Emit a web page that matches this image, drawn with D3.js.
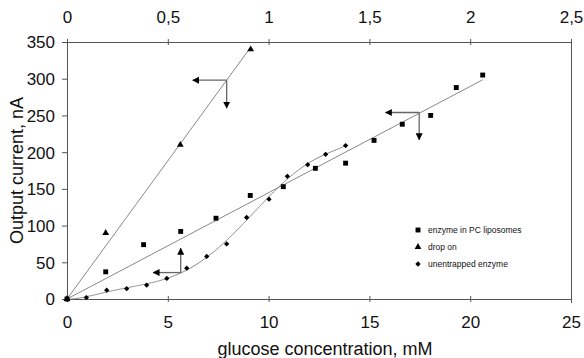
<!DOCTYPE html>
<html><head><meta charset="utf-8">
<script src="https://cdn.jsdelivr.net/npm/d3@7"></script>
<style>
body{margin:0;background:#fff}
svg{display:block}
text{font-family:"Liberation Sans",Arial,Helvetica,sans-serif;fill:#111}
</style>
</head><body>
<svg id="chart" width="584" height="358"></svg>
<script>
// ---- data ----
const xTicks  = [0, 5, 10, 15, 20, 25];
const x2Ticks = [0, 0.5, 1, 1.5, 2, 2.5];
const yTicks  = [0, 50, 100, 150, 200, 250, 300, 350];

const seriesNames = ["enzyme in PC liposomes", "drop on", "unentrapped enzyme"];

// enzyme in PC liposomes (bottom axis, mM)
const liposomeX = [0, 1.92, 3.80, 5.64, 7.39, 9.09, 10.73, 12.32, 13.82, 15.23, 16.63, 18.04, 19.31, 20.62];
const liposomeY = [0, 37, 74, 92, 110, 141, 153, 178, 185, 216, 238, 250, 288, 305];

// drop on (top axis)
const dropX = [0, 0.192, 0.562, 0.911];
const dropY = [0, 90, 210, 340];

// unentrapped enzyme (bottom axis, mM)
const freeX = [0, 0.96, 1.97, 2.96, 3.95, 4.95, 5.94, 6.93, 7.92, 8.91, 10.02, 10.93, 11.94, 12.83, 13.82];
const freeY = [0, 2, 12, 14, 19, 28, 42, 58, 75, 111, 136, 167, 183, 197, 209];

// axis-pointing arrows: corner (x, y), horizontal arrow end x, vertical arrow end y
const arrowSeries = ["drop on", "enzyme in PC liposomes", "unentrapped enzyme"];
const arrowX      = [0.792, 17.47, 5.64];
const arrowY      = [298, 254, 36];
const arrowXEnd   = [0.624, 15.80, 4.28];
const arrowYEnd   = [260, 217, 69];

// ---- chart ----
const svg = d3.select("#chart");
const L = 67, R = 571, T = 42, B = 299;
const x  = d3.scaleLinear().domain([0, 25]).range([L, R]);
const x2 = d3.scaleLinear().domain([0, 2.5]).range([L, R]);
const y  = d3.scaleLinear().domain([0, 350]).range([B, T]);

const axisColor = "#555";
const fs = 17;

const gb = svg.append("g").attr("transform", `translate(0,${B})`)
  .call(d3.axisBottom(x).tickValues(xTicks).tickSizeOuter(0).tickFormat(d3.format("d")));
const gt = svg.append("g").attr("transform", `translate(0,${T})`)
  .call(d3.axisTop(x2).tickValues(x2Ticks).tickSizeOuter(0).tickFormat(d => String(d).replace(".", ",")));
const gl = svg.append("g").attr("transform", `translate(${L},0)`)
  .call(d3.axisLeft(y).tickValues(yTicks).tickSizeOuter(0).tickFormat(d3.format("d")));

[gb, gt, gl].forEach(g => {
  g.select(".domain").remove();
  g.selectAll("text").attr("font-size", fs).attr("fill", "#111")
    .attr("font-family", '"Liberation Sans",Arial,sans-serif');
  g.selectAll("line").attr("stroke", axisColor);
});
gb.selectAll(".tick line").attr("y1", -3).attr("y2", 3);
gb.selectAll(".tick text").attr("y", 29).attr("dy", null);
gt.selectAll(".tick line").attr("y1", -3).attr("y2", 3);
gt.selectAll(".tick text").attr("y", -19).attr("dy", null);
gl.selectAll(".tick line").attr("x1", -5).attr("x2", 0);
gl.selectAll(".tick text").attr("x", -12).attr("dy", "0.35em");

// frame lines
const frame = svg.append("g").attr("stroke", axisColor).attr("stroke-width", 1).attr("fill", "none");
frame.append("line").attr("x1", L).attr("x2", R).attr("y1", B + 0.5).attr("y2", B + 0.5);
frame.append("line").attr("x1", L).attr("x2", R).attr("y1", T + 0.5).attr("y2", T + 0.5);
frame.append("line").attr("x1", L + 0.5).attr("x2", L + 0.5).attr("y1", T).attr("y2", B);
frame.append("line").attr("x1", R + 0.5).attr("x2", R + 0.5).attr("y1", T).attr("y2", B + 4);

// axis titles
svg.append("text").attr("x", 325).attr("y", 355).attr("text-anchor", "middle")
  .attr("font-size", 18).text("glucose concentration, mM");
svg.append("text").attr("transform", `translate(23,${(T + B) / 2}) rotate(-90)`)
  .attr("text-anchor", "middle").attr("font-size", 18).text("Output current, nA");

// trend lines
function slopeThroughOrigin(xs, ys) {
  const sxy = d3.sum(xs, (v, i) => v * ys[i]);
  const sxx = d3.sum(xs, v => v * v);
  return sxy / sxx;
}
function polyfit(xs, ys, deg) {
  const s = d3.max(xs); const n = deg + 1;
  const A = Array.from({length: n}, () => new Array(n + 1).fill(0));
  xs.forEach((xv, k) => {
    const t = xv / s;
    for (let i = 0; i < n; i++) {
      for (let j = 0; j < n; j++) A[i][j] += Math.pow(t, i + j);
      A[i][n] += ys[k] * Math.pow(t, i);
    }
  });
  for (let c = 0; c < n; c++) {
    let p = c; for (let r = c + 1; r < n; r++) if (Math.abs(A[r][c]) > Math.abs(A[p][c])) p = r;
    [A[c], A[p]] = [A[p], A[c]];
    for (let r = 0; r < n; r++) if (r !== c) {
      const f = A[r][c] / A[c][c];
      for (let k = c; k <= n; k++) A[r][k] -= f * A[c][k];
    }
  }
  const coef = A.map((row, i) => row[n] / row[i]);
  return xv => coef.reduce((acc, c, i) => acc + c * Math.pow(xv / s, i), 0);
}
const lineColor = "#7a7a7a";
const kLip = slopeThroughOrigin(liposomeX, liposomeY);
const kDrop = slopeThroughOrigin(dropX, dropY);
const trend = d3.line().x(d => d[0]).y(d => d[1]);
svg.append("path").attr("fill", "none").attr("stroke", lineColor).attr("stroke-width", 0.9)
  .attr("d", trend([[x(0), y(0)], [x(d3.max(liposomeX)), y(kLip * d3.max(liposomeX))]]));
svg.append("path").attr("fill", "none").attr("stroke", lineColor).attr("stroke-width", 0.9)
  .attr("d", trend([[x2(0), y(0)], [x2(d3.max(dropX)), y(kDrop * d3.max(dropX))]]));
const fFree = polyfit(freeX, freeY, 6);
const freeCurve = d3.range(0, d3.max(freeX) + 1e-9, 0.05).map(v => [x(v), y(fFree(v))]);
svg.append("path").attr("fill", "none").attr("stroke", lineColor).attr("stroke-width", 0.9)
  .attr("d", trend(freeCurve));

// arrows
const defs = svg.append("defs");
defs.append("marker").attr("id", "ah").attr("viewBox", "0 0 10 10").attr("refX", 9).attr("refY", 5)
  .attr("markerWidth", 7).attr("markerHeight", 7).attr("markerUnits", "userSpaceOnUse")
  .attr("orient", "auto")
  .append("path").attr("d", "M0,0L10,5L0,10Z").attr("fill", "#000");

arrowSeries.forEach((s, i) => {
  const sx = s === "drop on" ? x2 : x;
  const cx = sx(arrowX[i]), cy = y(arrowY[i]);
  const g = svg.append("g").attr("stroke", "#666").attr("stroke-width", 1.3);
  g.append("line").attr("x1", cx).attr("y1", cy).attr("x2", sx(arrowXEnd[i])).attr("y2", cy)
    .attr("marker-end", "url(#ah)");
  g.append("line").attr("x1", cx).attr("y1", cy).attr("x2", cx).attr("y2", y(arrowYEnd[i]))
    .attr("marker-end", "url(#ah)");
});

// markers
const rhombus = {draw(ctx, size) {
  const r = Math.sqrt(size / 2);
  ctx.moveTo(0, -r); ctx.lineTo(r, 0); ctx.lineTo(0, r); ctx.lineTo(-r, 0); ctx.closePath();
}};
const symSquare = d3.symbol().type(d3.symbolSquare).size(24);
const symTri = d3.symbol().type(d3.symbolTriangle).size(20);
const symDia = d3.symbol().type(rhombus).size(14);

svg.append("g").selectAll("path").data(liposomeX.map((v, i) => [v, liposomeY[i]])).join("path")
  .attr("d", symSquare).attr("fill", "#000")
  .attr("transform", d => `translate(${x(d[0])},${y(d[1])})`);
svg.append("g").selectAll("path").data(dropX.map((v, i) => [v, dropY[i]])).join("path")
  .attr("d", symTri).attr("fill", "#000")
  .attr("transform", d => `translate(${x2(d[0])},${y(d[1])})`);
svg.append("g").selectAll("path").data(freeX.map((v, i) => [v, freeY[i]])).join("path")
  .attr("d", symDia).attr("fill", "#000")
  .attr("transform", d => `translate(${x(d[0])},${y(d[1])})`);

// legend
const legSyms = [symSquare, symTri, symDia];
const leg = svg.append("g").attr("transform", "translate(418,230)");
seriesNames.forEach((n, i) => {
  const row = leg.append("g").attr("transform", `translate(0,${i * 17})`);
  row.append("path").attr("d", legSyms[i]).attr("fill", "#000");
  row.append("text").attr("x", 10).attr("dy", "0.35em").attr("font-size", 8.5).attr("fill", "#222").text(n);
});
</script>
</body></html>
